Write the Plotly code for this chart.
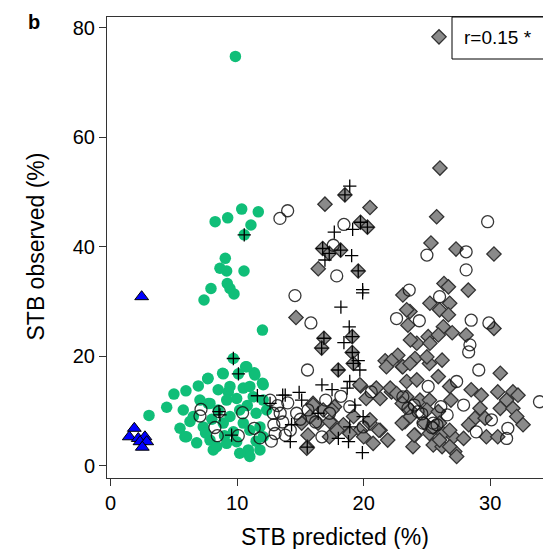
import plotly.graph_objects as go

# ---- data (x = STB predicted %, y = STB observed %) ----
tri_x = [2.45, 1.87, 1.47, 2.18, 2.71, 2.32, 2.85, 2.5]
tri_y = [30.9, 6.85, 5.3, 5.0, 5.3, 4.4, 4.4, 3.4]

green_x = [9.86, 8.26, 9.25, 10.36, 11.67, 11.09, 10.56, 9.06, 8.64, 9.17, 10.54, 9.22, 9.43, 9.75, 7.93, 7.38, 12.0,
           9.7, 10.67, 11.35, 10.1, 8.85, 7.67, 6.93, 5.95, 5.0, 4.43, 3.03, 5.48, 6.27, 5.87, 7.06, 7.72, 8.5, 9.3,
           10.48, 12.0, 8.11, 10.88, 11.8, 7.7, 11.4, 12.06, 9.43, 11.0, 7.85, 9.17, 9.96, 11.27, 12.06, 5.74, 6.53,
           7.32, 8.9, 9.43, 10.48, 11.0, 11.8, 7.85, 8.38, 9.17, 9.96, 10.88, 11.0, 9.7, 8.5, 10.2, 11.5, 12.33, 12.06,
           6.0, 10.2, 6.8, 7.5, 8.0, 10.8, 9.0, 11.5, 8.9, 10.75]
green_y = [74.8, 44.6, 45.3, 46.9, 46.4, 44.0, 42.2, 37.9, 36.1, 35.6, 35.6, 33.3, 32.4, 31.4, 32.4, 30.3, 24.8,
           19.6, 18.1, 17.0, 16.8, 16.9, 15.9, 14.6, 13.7, 13.1, 10.7, 9.2, 6.85, 8.1, 5.3, 12.0, 11.4, 13.9, 13.5,
           14.2, 15.1, 2.9, 2.3, 2.9, 16.0, 16.6, 14.8, 14.5, 14.5, 11.4, 12.0, 12.3, 12.6, 12.0, 10.2, 9.0,
           7.1, 7.8, 9.0, 7.8, 6.5, 7.1, 4.7, 3.5, 4.1, 4.4, 2.9, 1.7, 6.2, 10.2, 10.2, 9.6, 10.2, 5.3,
           5.3, 2.3, 4.2, 6.0, 8.5, 11.0, 5.5, 4.5, 16.8, 18.1]

circ_x = [7.14, 7.06, 8.58, 10.43, 8.24, 8.43, 10.09, 11.35, 11.8, 13.99, 13.38, 14.57, 18.44, 17.6, 17.87, 15.83,
          15.56, 12.6, 12.85, 13.4, 13.0, 13.8, 14.7, 15.6, 16.7, 17.3, 18.9, 20.6, 19.96, 29.8, 25.0, 28.1, 28.1,
          23.6, 26.0, 22.6, 24.4, 28.5, 29.9, 28.4, 28.3, 29.1, 27.35, 25.1, 27.9, 26.6, 25.8, 30.1, 31.4, 28.9,
          31.3, 33.9, 23.5, 24.3, 24.7, 25.5, 23.1, 24.0, 24.6, 25.4, 26.1, 13.2, 13.6, 14.2, 12.9, 14.0, 15.0,
          16.2, 17.0, 18.2, 12.7]
circ_y = [10.3, 9.1, 9.9, 9.7, 7.0, 5.5, 5.5, 6.85, 5.1, 46.6, 45.2, 31.1, 44.1, 40.3, 34.7, 26.1,
          17.5, 12.0, 9.6, 9.6, 5.9, 5.6, 9.6, 10.2, 5.3, 9.6, 10.8, 13.5, 7.1, 44.6, 38.5, 39.1, 35.8,
          32.1, 30.9, 26.9, 26.5, 26.6, 26.1, 22.1, 20.8, 17.5, 15.4, 14.5, 11.1, 9.3, 7.5, 8.4, 6.85, 6.2,
          5.0, 11.7, 10.5, 9.9, 7.8, 7.8, 12.6, 11.1, 9.5, 7.0, 10.8, 11.0, 8.0, 6.5, 7.5, 11.5, 8.5,
          8.0, 12.0, 12.7, 4.5]

plus_x = [10.56, 9.7, 10.1, 11.6, 8.64, 9.56, 8.56, 13.6, 18.9, 18.52, 17.68, 19.13, 19.75, 20.3, 19.05, 16.94,
          16.76, 17.28, 18.18, 19.57, 19.92, 19.92, 18.2, 18.86, 18.44, 16.86, 16.68, 19.1, 19.1, 19.57, 19.7,
          19.18, 17.99, 13.8, 14.9, 15.1, 16.7, 17.5, 18.7, 18.9, 19.3, 19.96, 16.4, 14.3, 14.2, 18.8, 19.9,
          18.0, 18.9, 12.6, 15.54]
plus_y = [42.2, 19.6, 16.8, 12.8, 9.3, 5.6, 9.9, 12.9, 51.1, 49.5, 42.7, 43.2, 44.5, 43.6, 38.4, 37.6,
          39.7, 38.8, 39.4, 35.6, 32.2, 31.6, 29.0, 25.4, 22.5, 23.3, 21.5, 23.6, 20.7, 19.2, 17.5,
          18.7, 17.5, 12.9, 13.4, 12.0, 14.8, 13.9, 14.2, 15.4, 11.1, 9.0, 9.6, 7.5, 4.4, 4.4, 2.4,
          5.0, 7.1, 11.4, 3.4]

dia_x = [18.52, 16.94, 20.5, 19.75, 20.3, 16.76, 17.28, 18.18, 16.41, 19.57, 14.65, 16.86, 16.68, 19.1, 19.1, 19.18,
         17.99, 19.76, 20.2, 21.3, 21.7, 22.7, 23.05, 22.2, 15.6, 15.54, 16.0, 16.8, 17.7, 18.4, 17.5, 19.2, 19.7,
         20.5, 21.3, 21.9, 20.75, 20.0, 16.4, 15.1, 15.75, 17.3, 18.9,
         26.03, 25.77, 25.32, 27.3, 30.3, 26.35, 26.7, 28.27, 23.1, 25.24, 26.8, 23.66, 26.0, 26.7, 23.5, 26.3,
         27.0, 30.3, 28.1, 24.2, 25.1, 25.9, 23.1, 24.06, 25.2, 26.2, 25.9, 23.4, 24.2, 26.8, 30.8, 28.5, 29.3,
         30.6, 31.8, 32.2, 31.3, 23.4, 24.45, 25.2, 26.9, 29.2, 30.8, 31.8, 23.7, 25.0, 25.9, 23.26, 24.8, 26.0,
         28.8, 29.6, 32.1, 32.6, 28.3, 24.06, 25.2, 26.3, 27.1, 27.9, 29.7, 30.6, 23.9, 25.5, 26.2, 27.2, 27.35,
         26.8, 23.7, 23.4, 23.66, 25.0, 25.24, 22.2, 23.05, 23.7, 23.05, 24.0, 25.5, 26.0, 26.8, 19.7, 20.5,
         21.2, 17.9, 17.3, 16.0, 17.5, 22.1, 22.6, 21.8, 21.0, 15.5]
dia_y = [49.5, 47.8, 47.2, 44.5, 43.6, 39.7, 38.8, 39.4, 36.0, 35.6, 27.1, 23.3, 21.5, 23.6, 20.7, 18.7,
         17.5, 14.6, 12.3, 12.3, 19.2, 20.2, 18.1, 19.2, 5.6, 3.4, 11.4, 10.2, 10.8, 7.5, 7.8, 9.0, 6.5,
         7.8, 6.5, 4.7, 4.1, 5.3, 7.8, 7.8, 9.0, 5.3, 5.9,
         54.4, 45.5, 40.7, 39.6, 38.7, 33.3, 32.7, 32.1, 31.2, 29.7, 29.7, 28.2, 28.5, 27.6, 25.7, 25.4,
         24.3, 25.1, 23.9, 22.4, 23.6, 23.9, 18.1, 19.6, 18.7, 19.3, 16.3, 15.4, 15.7, 14.5, 16.9, 13.9, 12.9,
         13.5, 13.5, 12.9, 12.0, 12.6, 12.0, 12.0, 12.0, 10.5, 10.5, 10.5, 10.2, 10.2, 9.9, 8.06, 7.8, 7.8,
         8.7, 8.7, 9.0, 7.5, 7.5, 5.6, 5.9, 5.9, 5.3, 5.0, 5.3, 5.3, 3.5, 3.8, 3.5, 2.6, 1.7,
         3.5, 23.0, 28.5, 18.7, 19.9, 22.4, 13.5, 11.4, 9.0, 7.8, 5.6, 7.0, 4.7, 6.5, 14.8, 8.4,
         6.5, 6.5, 8.1, 11.1, 10.2, 14.2, 13.2, 18.1, 14.2, 3.2]

legend_text = "r=0.15 *"
x_title = "STB predicted (%)"
y_title = "STB observed (%)"
x_ticks = [0, 10, 20, 30]
y_ticks = [0, 20, 40, 60, 80]

FONT = "Liberation Sans, Arial, sans-serif"
OFF = 8  # default page body margin
W, H = 551 - OFF, 550 - OFF
ML, MR, MT, MB = 107 - OFF, 0, 17 - OFF, 72
PW, PH = W - ML - MR, H - MT - MB


def px_x(p):  # page pixel -> paper
    return (p - OFF - ML) / PW


def px_y(p):
    return (H - MB - (p - OFF)) / PH


fig = go.Figure()
fig.add_trace(go.Scatter(x=green_x, y=green_y, mode="markers", showlegend=False,
                         marker=dict(symbol="circle", size=11.5, color="rgb(16,190,120)", line=dict(width=0))))
fig.add_trace(go.Scatter(x=dia_x, y=dia_y, mode="markers", name=legend_text, showlegend=True,
                         marker=dict(symbol="diamond", size=11, color="rgb(138,138,138)",
                                     line=dict(width=1.3, color="rgb(50,50,50)"))))
fig.add_trace(go.Scatter(x=circ_x, y=circ_y, mode="markers", showlegend=False,
                         marker=dict(symbol="circle-open", size=12, color="rgba(20,20,20,0.85)",
                                     line=dict(width=1.3))))
fig.add_trace(go.Scatter(x=plus_x, y=plus_y, mode="markers", showlegend=False,
                         marker=dict(symbol="cross-thin", size=9.5, color="black",
                                     line=dict(width=1.3, color="black"))))
fig.add_trace(go.Scatter(x=tri_x, y=tri_y, mode="markers", showlegend=False,
                         marker=dict(symbol="triangle-up", size=12, color="rgb(0,0,255)",
                                     line=dict(width=1, color="black"))))

fig.update_layout(
    width=W, height=H,
    margin=dict(l=ML, r=MR, t=MT, b=MB, autoexpand=False),
    paper_bgcolor="white", plot_bgcolor="white",
    font=dict(family=FONT, color="black", size=20),
    showlegend=True,
    legend=dict(x=px_x(414), y=px_y(37), xanchor="left", yanchor="middle",
                bgcolor="rgba(0,0,0,0)", borderwidth=0, itemwidth=40,
                font=dict(size=19, family=FONT, color="black")),
    xaxis=dict(range=[-0.29, 34.81], tickvals=x_ticks, ticks="outside", ticklen=7, tickwidth=1,
               tickcolor="#333", showline=True, linecolor="#333", linewidth=1, mirror=True,
               showgrid=False, zeroline=False, tickfont=dict(size=20), automargin=False),
    yaxis=dict(range=[-2.23, 82.0], tickvals=y_ticks, ticks="outside", ticklen=7, tickwidth=1,
               tickcolor="#333", showline=True, linecolor="#333", linewidth=1,
               showgrid=False, zeroline=False, tickfont=dict(size=20), automargin=False),
    shapes=[dict(type="rect", xref="paper", yref="paper", x0=px_x(452), x1=1.2, y0=px_y(59), y1=1.0,
                 line=dict(color="black", width=1), fillcolor="rgba(0,0,0,0)", layer="above")],
    annotations=[
        dict(text="<b>b</b>", xref="paper", yref="paper", x=px_x(34), y=px_y(8.5), xanchor="center",
             yanchor="top", showarrow=False, font=dict(size=20, family=FONT)),
        dict(text=x_title, xref="paper", yref="paper", x=px_x(334.5), y=px_y(537), xanchor="center",
             yanchor="middle", height=24, valign="middle", showarrow=False, font=dict(size=23, family=FONT)),
        dict(text=y_title, xref="paper", yref="paper", x=px_x(35), y=px_y(246.5), xanchor="center",
             yanchor="middle", showarrow=False, textangle=-90, font=dict(size=23, family=FONT)),
    ],
)

fig.write_html("out.html")
